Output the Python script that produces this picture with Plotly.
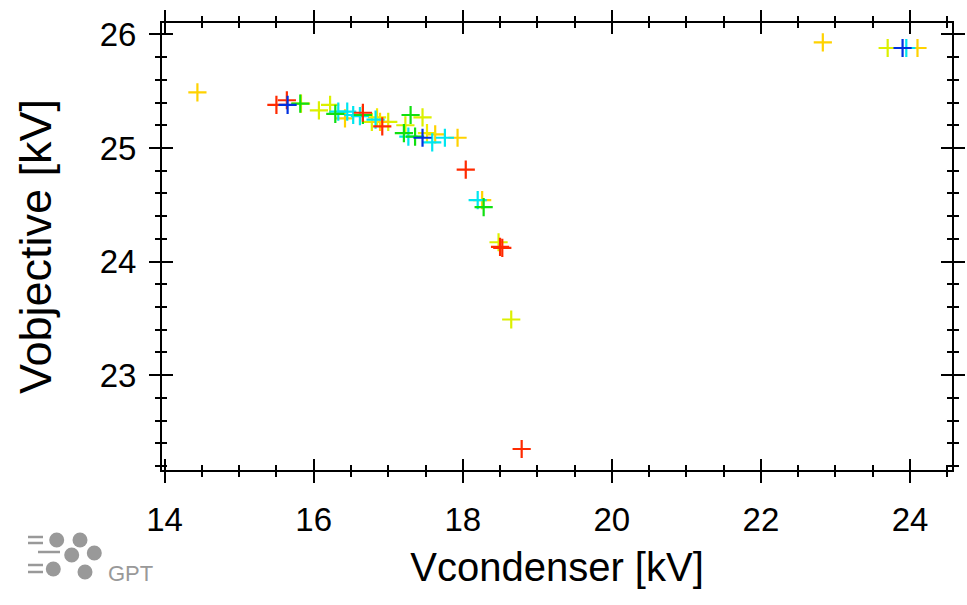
import plotly.graph_objects as go

# ---- data (Vcondenser [kV], Vobjective [kV]) grouped by marker colour ----
red_x = [15.50, 15.64, 16.66, 16.92, 18.04, 18.50, 18.53, 18.79]
red_y = [25.38, 25.42, 25.31, 25.19, 24.81, 24.13, 24.12, 22.35]

blue_x = [15.65, 17.46, 23.90]
blue_y = [25.38, 25.09, 25.88]

green_x = [15.82, 16.29, 16.66, 17.30, 17.21, 17.36, 18.28]
green_y = [25.39, 25.30, 25.29, 25.29, 25.13, 25.10, 24.48]

cyan_x = [16.33, 16.45, 16.53, 16.62, 16.83, 17.27, 17.59, 17.76, 18.20, 23.95]
cyan_y = [25.32, 25.32, 25.29, 25.28, 25.25, 25.10, 25.05, 25.09, 24.54, 25.88]

yellow_x = [15.83, 16.85, 17.52]
yellow_y = [25.39, 25.27, 25.13]

ygreen_x = [16.07, 16.22, 16.78, 17.00, 17.23, 17.46, 18.48, 18.65, 23.70]
ygreen_y = [25.33, 25.38, 25.23, 25.23, 25.20, 25.27, 24.17, 23.49, 25.88]

gold_x = [14.44, 16.42, 16.89, 17.63, 17.93, 18.26, 22.83, 24.10]
gold_y = [25.49, 25.26, 25.23, 25.12, 25.09, 24.54, 25.93, 25.88]

x_ticks = [14, 16, 18, 20, 22, 24]
y_ticks = [23, 24, 25, 26]

series = [
    (ygreen_x, ygreen_y, "#dcf000"),
    (gold_x, gold_y, "#ffd200"),
    (yellow_x, yellow_y, "#f2ea00"),
    (cyan_x, cyan_y, "#00e6f0"),
    (green_x, green_y, "#10e010"),
    (red_x, red_y, "#ff2a00"),
    (blue_x, blue_y, "#0030e0"),
]

fig = go.Figure()
for xs, ys, col in series:
    fig.add_trace(go.Scatter(
        x=xs, y=ys, mode="markers", showlegend=False,
        marker=dict(symbol="cross-thin", size=13, line=dict(color=col, width=2.2)),
    ))
# invisible trace to activate overlay axes (inside ticks)
fig.add_trace(go.Scatter(x=[20], y=[24], xaxis="x2", yaxis="y2", mode="markers",
                         marker=dict(opacity=0), showlegend=False, hoverinfo="skip"))

W, H = 967, 605
L, R, T, B = 162, 952, 23, 470
XR = [13.965, 24.563]
YR = [22.165, 26.10]

font = "Liberation Sans, Arial, sans-serif"
common_x = dict(range=XR, tickvals=x_ticks, showgrid=False, zeroline=False,
                linecolor="black", linewidth=2, tickcolor="black", tickwidth=2,
                mirror="allticks", automargin=False)
common_y = dict(range=YR, tickvals=y_ticks, showgrid=False, zeroline=False,
                linecolor="black", linewidth=2, tickcolor="black", tickwidth=2,
                mirror="allticks", automargin=False)

fig.update_layout(
    width=W, height=H,
    margin=dict(l=L, r=W - R, t=T, b=H - B, autoexpand=False),
    paper_bgcolor="white", plot_bgcolor="white",
    font=dict(family=font, color="black"),
    xaxis=dict(**common_x, ticks="outside", ticklen=11,
               minor=dict(dtick=0.5, tick0=14, ticks="outside", ticklen=5, tickwidth=2, tickcolor="black"),
               tickfont=dict(size=33), ticklabelstandoff=8,
               title=dict(text="Vcondenser [kV]", font=dict(size=40), standoff=16)),
    yaxis=dict(**common_y, ticks="outside", ticklen=11,
               minor=dict(dtick=0.2, tick0=22.2, ticks="outside", ticklen=5, tickwidth=2, tickcolor="black"),
               tickfont=dict(size=33), ticklabelstandoff=6,
               title=dict(text="Vobjective [kV]", font=dict(size=45), standoff=34)),
    xaxis2=dict(**common_x, overlaying="x", ticks="inside", ticklen=11, showticklabels=False,
                minor=dict(dtick=0.5, tick0=14, ticks="inside", ticklen=5, tickwidth=2, tickcolor="black")),
    yaxis2=dict(**common_y, overlaying="y", ticks="inside", ticklen=11, showticklabels=False,
                minor=dict(dtick=0.2, tick0=22.2, ticks="inside", ticklen=5, tickwidth=2, tickcolor="black")),
)

# ---- GPT logo (decoration, pixel positions converted to paper coords) ----
def px(xp):
    return (xp - L) / (R - L)

def py(yp):
    return (B - yp) / (B - T)

grey = "#999999"
shapes = []
for cx, cy in [(56.7, 540), (80, 540), (71.7, 555), (94.3, 553), (53.3, 569), (85, 572)]:
    r = 7.5
    shapes.append(dict(type="circle", xref="paper", yref="paper",
                       x0=px(cx - r), x1=px(cx + r), y0=py(cy + r), y1=py(cy - r),
                       fillcolor=grey, line=dict(width=0)))
for x0, x1, yy in [(28, 43, 537), (28, 43, 543), (38, 60, 552), (28, 43, 565), (28, 43, 572)]:
    shapes.append(dict(type="line", xref="paper", yref="paper",
                       x0=px(x0), x1=px(x1), y0=py(yy), y1=py(yy),
                       line=dict(color=grey, width=2.5)))
fig.update_layout(shapes=shapes)
fig.add_annotation(text="GPT", xref="paper", yref="paper", x=px(106), y=py(573),
                   xanchor="left", yanchor="middle", showarrow=False,
                   font=dict(size=22, color=grey, family=font))

fig.write_html("out.html")
